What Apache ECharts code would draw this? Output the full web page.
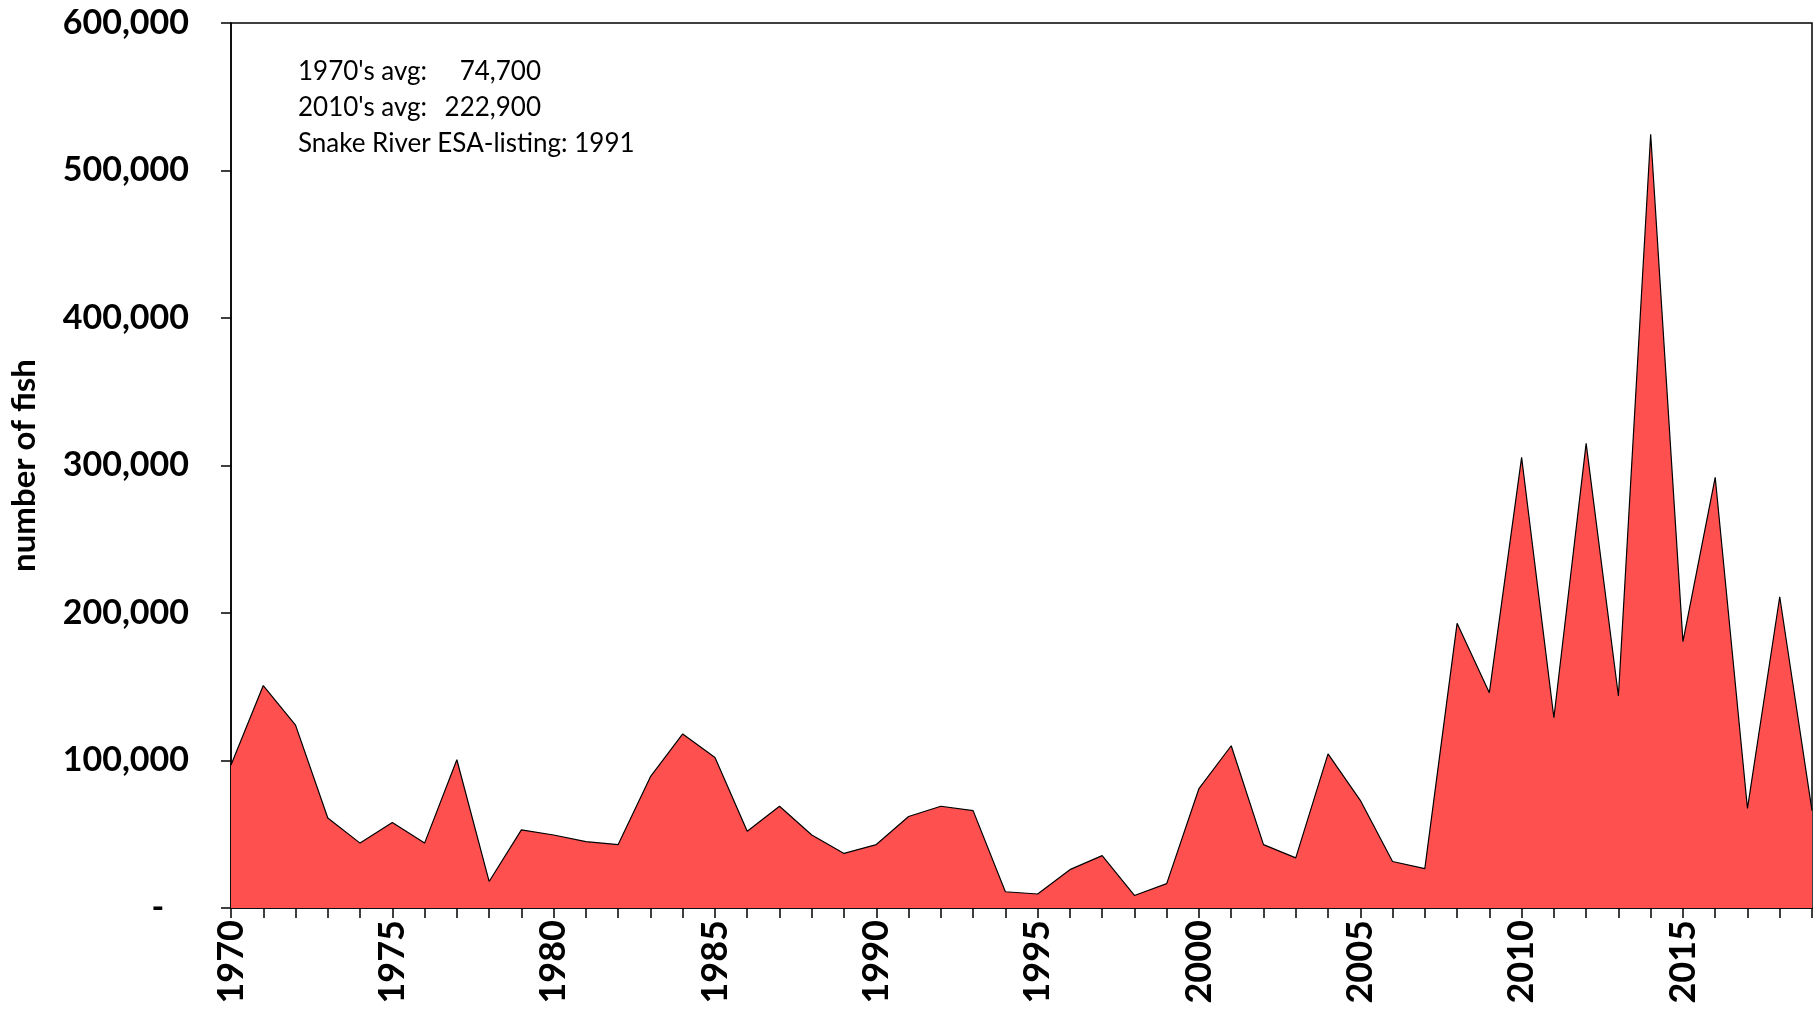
<!DOCTYPE html>
<html>
<head>
<meta charset="utf-8">
<script src="https://cdn.jsdelivr.net/npm/echarts@6/dist/echarts.min.js"></script>
<style>
  html, body { margin: 0; padding: 0; background: #fff; }
  #chart { width: 1816px; height: 1013px; }
</style>
</head>
<body>
<div id="chart"></div>
<script>
// years and fish counts
const years = []
for (let y = 1970; y <= 2019; y++) years.push(String(y))

const fishCounts = [
  97000, 150800, 124000, 61000, 44000, 58000, 44000, 100500, 18000, 53000,
  49500, 45000, 43000, 89000, 118000, 102000, 52000, 69000, 49500, 37000,
  43000, 62000, 69000, 66000, 11000, 9500, 26000, 35500, 8500, 16500,
  81000, 110000, 43000, 34000, 104500, 73000, 31500, 26700, 193000, 146000,
  305500, 129000, 315000, 143700, 524600, 180600, 292000, 67500, 211000, 66000,
]

const noteLabels = ["1970's avg:", "2010's avg:", 'Snake River ESA-listing: 1991']
const noteValues = ['74,700', '222,900', '']

const FONT = 'Lato'
const chart = echarts.init(document.getElementById('chart'))

// annotation block, top left of the plot
const notes = []
noteLabels.forEach((t, i) => {
  notes.push({
    type: 'text',
    left: 298,
    top: 59 + i * 36,
    style: { text: t, font: '26px ' + FONT, fill: '#000' },
  })
  if (noteValues[i]) {
    notes.push({
      type: 'text',
      x: 541,
      y: 59 + i * 36,
      style: { text: noteValues[i], font: '26px ' + FONT, fill: '#000', align: 'right' },
    })
  }
})

const options = {
  animation: false,
  grid: {
    left: 229,
    right: 4,
    top: 23,
    bottom: 105,
    show: true,
    borderColor: '#000',
    borderWidth: 1.5,
  },
  xAxis: {
    type: 'category',
    data: years,
    boundaryGap: false,
    axisLine: { lineStyle: { color: '#000', width: 1.5 } },
    axisTick: { show: true, inside: false, length: 10, interval: 0, lineStyle: { color: '#000', width: 1.5 } },
    axisLabel: {
      interval: 4,
      rotate: 90,
      margin: 12,
      color: '#000',
      fontFamily: FONT,
      fontWeight: 'bold',
      fontSize: 36,
    },
    splitLine: { show: false },
  },
  yAxis: {
    type: 'value',
    min: 0,
    max: 600000,
    interval: 100000,
    name: 'number of fish',
    nameLocation: 'middle',
    nameGap: 190,
    nameTextStyle: { color: '#000', fontFamily: FONT, fontWeight: 'bold', fontSize: 33 },
    axisLine: { show: true, lineStyle: { color: '#000', width: 1.5 } },
    axisTick: { show: true, length: 10, lineStyle: { color: '#000', width: 1.5 } },
    axisLabel: {
      margin: 42,
      color: '#000',
      fontFamily: FONT,
      fontWeight: 'bold',
      fontSize: 34,
      formatter: (v) => (v === 0 ? '-   ' : v.toLocaleString('en-US')),
    },
    splitLine: { show: false },
  },
  graphic: notes,
  series: [
    {
      type: 'line',
      data: fishCounts,
      symbol: 'none',
      lineStyle: { color: '#000', width: 1.2 },
      areaStyle: { color: '#FF5050', opacity: 1 },
      z: 1,
    },
  ],
}
chart.setOption(options)
</script>
</body>
</html>
